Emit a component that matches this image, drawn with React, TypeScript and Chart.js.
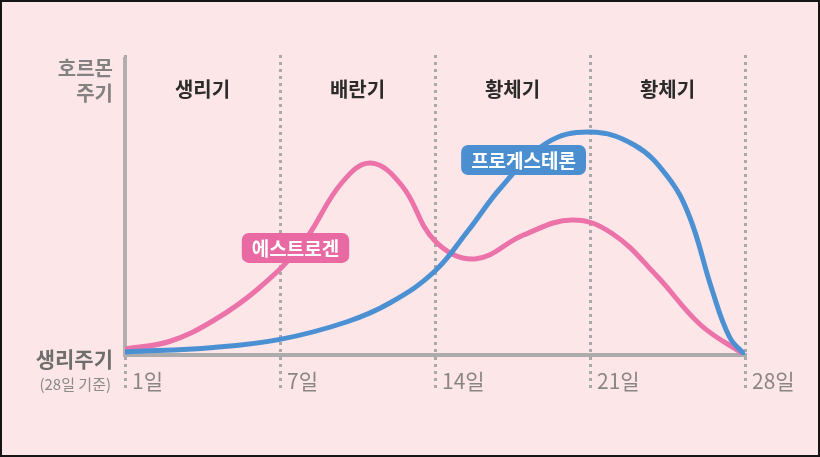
import { useEffect, useRef } from 'react'
import { Chart, registerables } from 'chart.js'

Chart.register(...registerables)

const FONT = '"Noto Sans CJK KR", "Noto Sans", sans-serif'

// x axis: day 0..28, ticks shown as 1일 / 7일 / 14일 / 21일 / 28일
const dayTicks = [0, 7, 14, 21, 28]
const dayLabels = ['1일', '7일', '14일', '21일', '28일']

const phaseNames = ['생리기', '배란기', '황체기', '황체기']
const phaseCenters = [3.5, 10.5, 17.5, 24.5]

// 에스트로겐 (pink)
const estrogenDays = [0, 2, 4, 6, 8, 9.8, 11.1, 12.5, 14, 15.8, 18, 20.2, 22, 24, 26, 28]
const estrogenLevels = [2, 4.5, 11.5, 22, 37, 57.5, 64, 56.5, 38, 32, 40, 45, 40.5, 26.5, 10, 0]

// 프로게스테론 (blue)
const progesteroneDays = [0, 4, 7, 10, 12, 14, 15.5, 17, 19, 21, 23, 24.5, 25.5, 26.5, 27.3, 28]
const progesteroneLevels = [1, 2.5, 5.2, 11, 17.5, 28, 41.5, 56, 70.5, 74.3, 70, 59.5, 46, 22, 6, 0]

const PINK = '#ec72aa'
const BLUE = '#4b90d3'

const decorPlugin = {
  id: 'decor',
  beforeDatasetsDraw(chart: Chart) {
    const { ctx, chartArea, scales } = chart
    const xs = scales.x
    ctx.save()
    // y axis line
    ctx.strokeStyle = '#b0b0b0'
    ctx.lineWidth = 4
    ctx.beginPath()
    ctx.moveTo(chartArea.left, chartArea.top + 2)
    ctx.lineTo(chartArea.left, chartArea.bottom + 2)
    ctx.stroke()

    // phase names
    ctx.font = `bold 20px ${FONT}`
    ctx.fillStyle = '#2b2b2b'
    ctx.textAlign = 'center'
    ctx.textBaseline = 'middle'
    phaseNames.forEach((n, i) => ctx.fillText(n, xs.getPixelForValue(phaseCenters[i]), 87))

    // side titles
    const rx = chartArea.left - 12
    ctx.textAlign = 'right'
    ctx.fillStyle = '#828282'
    ctx.font = `bold 20px ${FONT}`
    ctx.fillText('호르몬', rx, 66)
    ctx.fillText('주기', rx, 91)
    ctx.fillStyle = '#6e6e6e'
    ctx.font = `bold 21px ${FONT}`
    ctx.fillText('생리주기', rx, 357)
    ctx.fillStyle = '#8a8a8a'
    ctx.font = `15px ${FONT}`
    ctx.fillText('(28일 기준)', rx - 2, 382)
    ctx.restore()
  },
  afterDatasetsDraw(chart: Chart) {
    const { ctx, scales } = chart
    const tags = [
      { text: '에스트로겐', day: 7.7, level: 35.7, color: '#e96aa3' },
      { text: '프로게스테론', day: 18.0, level: 65, color: '#4b8fd0' },
    ]
    ctx.save()
    ctx.font = `bold 19px ${FONT}`
    ctx.textAlign = 'center'
    ctx.textBaseline = 'middle'
    tags.forEach((t) => {
      const cx = scales.x.getPixelForValue(t.day)
      const cy = scales.y.getPixelForValue(t.level)
      const w = ctx.measureText(t.text).width + 20
      const h = 30
      ctx.fillStyle = t.color
      ctx.beginPath()
      ctx.roundRect(cx - w / 2, cy - h / 2, w, h, 7)
      ctx.fill()
      ctx.fillStyle = '#ffffff'
      ctx.fillText(t.text, cx, cy + 1)
    })
    ctx.restore()
  },
}

export default function App() {
  const canvasRef = useRef<HTMLCanvasElement>(null)

  useEffect(() => {
    if (!canvasRef.current) return
    const chart = new Chart(canvasRef.current, {
      type: 'line',
      data: {
        datasets: [
          {
            label: '프로게스테론',
            data: progesteroneDays.map((d, i) => ({ x: d, y: progesteroneLevels[i] })),
            borderColor: BLUE,
            borderWidth: 5,
            pointRadius: 0,
            tension: 0.4,
            borderCapStyle: 'round',
            order: 0,
          },
          {
            label: '에스트로겐',
            data: estrogenDays.map((d, i) => ({ x: d, y: estrogenLevels[i] })),
            borderColor: PINK,
            borderWidth: 5,
            pointRadius: 0,
            tension: 0.4,
            borderCapStyle: 'round',
            order: 1,
          },
        ],
      },
      options: {
        responsive: false,
        animation: false,
        layout: { padding: { left: 123, right: 73, top: 53, bottom: 52 } },
        plugins: { legend: { display: false }, tooltip: { enabled: false } },
        scales: {
          x: {
            type: 'linear',
            min: 0,
            max: 28,
            afterBuildTicks: (s: any) => {
              s.ticks = dayTicks.map((value) => ({ value }))
            },
            afterFit: (s: any) => {
              s.height = 48
            },
            ticks: {
              callback: (v: any) => {
                const i = dayTicks.indexOf(Number(v))
                return i >= 0 ? dayLabels[i] : ''
              },
              align: 'start',
              labelOffset: 7,
              padding: -20,
              autoSkip: false,
              maxRotation: 0,
              color: '#8a8585',
              font: { family: FONT, size: 21 },
            },
            grid: {
              color: '#a9a9a9',
              lineWidth: 3,
              drawTicks: true,
              tickLength: 33,
              tickColor: '#a9a9a9',
              tickWidth: 3,
              tickBorderDash: [3, 4],
            },
            border: { display: true, color: '#acacac', width: 4, dash: [3, 4] },
          },
          y: { display: false, min: 0, max: 100 },
        },
      },
      plugins: [decorPlugin],
    } as any)
    return () => chart.destroy()
  }, [])

  return (
    <div
      style={{
        position: 'fixed',
        left: 0,
        top: 0,
        width: 820,
        height: 457,
        boxSizing: 'border-box',
        border: '2px solid #151515',
        background: '#fde6e7',
      }}
    >
      <canvas ref={canvasRef} width={816} height={453} style={{ display: 'block', width: 816, height: 453 }} />
    </div>
  )
}
